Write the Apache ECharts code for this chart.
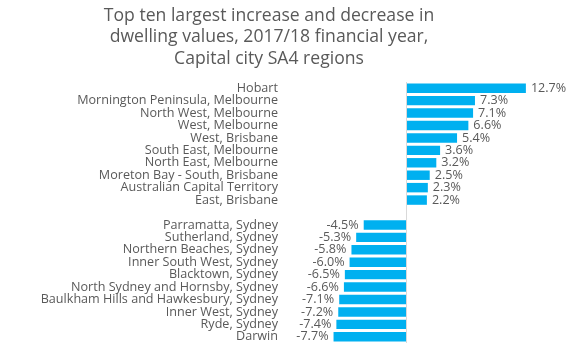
<!DOCTYPE html>
<html>
<head>
<meta charset="utf-8">
<script src="https://cdn.jsdelivr.net/npm/echarts@6/dist/echarts.min.js"></script>
<style>
  html, body { margin: 0; padding: 0; background: #ffffff; }
  #main { width: 580px; height: 352px; }
</style>
</head>
<body>
<div id="main"></div>
<script>
// regions, top to bottom; the empty entry is the gap between the two groups
var regions = [
  "Hobart",
  "Mornington Peninsula, Melbourne",
  "North West, Melbourne",
  "West, Melbourne",
  "West, Brisbane",
  "South East, Melbourne",
  "North East, Melbourne",
  "Moreton Bay - South, Brisbane",
  "Australian Capital Territory",
  "East, Brisbane",
  "",
  "Parramatta, Sydney",
  "Sutherland, Sydney",
  "Northern Beaches, Sydney",
  "Inner South West, Sydney",
  "Blacktown, Sydney",
  "North Sydney and Hornsby, Sydney",
  "Baulkham Hills and Hawkesbury, Sydney",
  "Inner West, Sydney",
  "Ryde, Sydney",
  "Darwin"
];
// change in dwelling values, %
var change = [12.7, 7.3, 7.1, 6.6, 5.4, 3.6, 3.2, 2.5, 2.3, 2.2, null,
  -4.5, -5.3, -5.8, -6.0, -6.5, -6.6, -7.1, -7.2, -7.4, -7.7];

var titleText = "Top ten largest increase and decrease in\ndwelling values, 2017/18 financial year,\nCapital city SA4 regions";

var chart = echarts.init(document.getElementById("main"));

// negative bars get their labels on the left
var barData = change.map(function (v) {
  if (v != null && v < 0) {
    return { value: v, label: { position: "left" } };
  }
  return v;
});

var option = {
  backgroundColor: "#ffffff",
  animation: false,
  graphic: [{
    type: "text",
    x: 269,
    y: 5,
    style: {
      text: titleText,
      font: "17.6px 'Open Sans'",
      fill: "#595959",
      textAlign: "center",
      textVerticalAlign: "top",
      lineHeight: 21.5
    }
  }],
  grid: { left: 293, right: 23, top: 82, bottom: 9 },
  xAxis: {
    type: "value",
    min: -12,
    max: 16,
    show: false
  },
  yAxis: {
    type: "category",
    data: regions,
    inverse: true,
    axisLine: { show: false },
    axisTick: { show: false },
    axisLabel: {
      interval: 0,
      color: "#595959",
      fontFamily: "Open Sans",
      fontSize: 12.6,
      margin: 15
    }
  },
  series: [{
    type: "bar",
    data: barData,
    barCategoryGap: "24%",
    itemStyle: { color: "#00B0F0" },
    label: {
      show: true,
      position: "right",
      distance: 5,
      color: "#595959",
      fontFamily: "Open Sans",
      fontSize: 12.6,
      formatter: function (p) {
        return p.value == null ? "" : p.value.toFixed(1) + "%";
      }
    },
    markLine: {
      silent: true,
      symbol: "none",
      label: { show: false },
      lineStyle: { color: "#d9d9d9", width: 1, type: "solid" },
      data: [{ xAxis: 0 }]
    }
  }]
};
chart.setOption(option);
</script>
</body>
</html>
